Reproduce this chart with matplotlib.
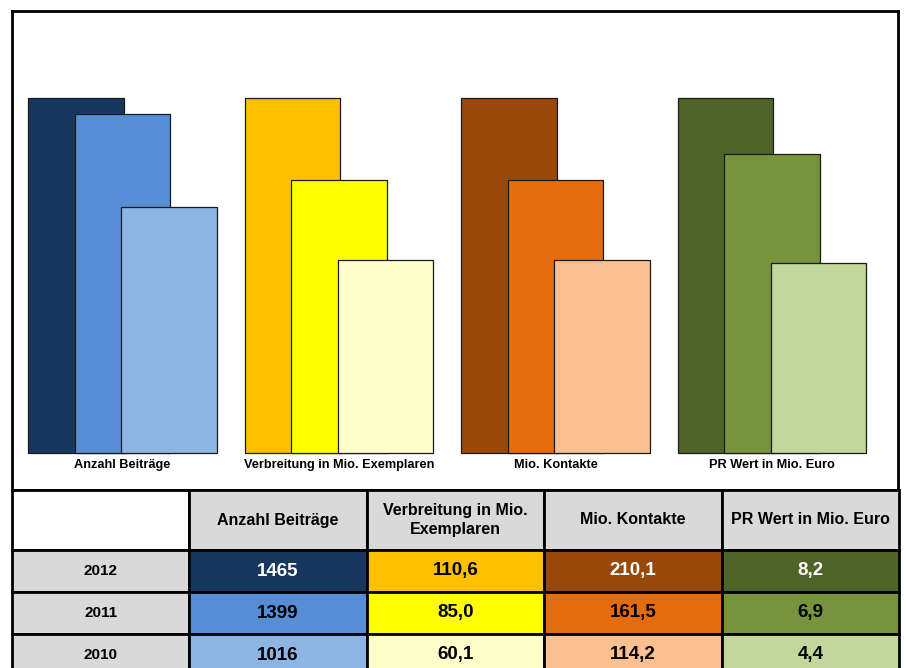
import matplotlib.pyplot as plt
import numpy as np

plt.rcParams['font.family'] = ['Liberation Sans', 'DejaVu Sans']

# Data
years = ['2012', '2011', '2010']
categories = ['Anzahl Beiträge', 'Verbreitung in Mio. Exemplaren', 'Mio. Kontakte', 'PR Wert in Mio. Euro']
header_labels = ['Anzahl Beiträge', 'Verbreitung in Mio.\nExemplaren', 'Mio. Kontakte', 'PR Wert in Mio. Euro']
anzahl = [1465, 1399, 1016]
verbreitung = [110.6, 85.0, 60.1]
kontakte = [210.1, 161.5, 114.2]
pr_wert = [8.2, 6.9, 4.4]

# one colour per year (2012, 2011, 2010) for each category
colors = [
    ['#17375E', '#558ED5', '#8EB4E3'],
    ['#FFC000', '#FFFF00', '#FFFFCC'],
    ['#984807', '#E46C0A', '#FAC090'],
    ['#4F6228', '#77933C', '#C3D69B'],
]
# text colour inside the table cells
text_colors = [
    ['white', 'black', 'black'],
    ['black', 'black', 'black'],
    ['white', 'black', 'black'],
    ['white', 'black', 'black'],
]

series = [anzahl, verbreitung, kontakte, pr_wert]

W, H = 906, 668
fig = plt.figure(figsize=(W / 100, H / 100), dpi=100)

# --- bar chart (also draws the outer frame) ---
ax = fig.add_axes([12 / W, (H - 490) / H, (898 - 12) / W, (490 - 11) / H])
offsets = [-0.215, 0.0, 0.215]
bar_width = 0.44
for g, vals in enumerate(series):
    vals = np.array(vals, dtype=float)
    norm = vals / vals.max()
    for j in range(len(years)):
        ax.bar(g + offsets[j], norm[j], bar_width, color=colors[g][j],
               edgecolor='#1a1a1a', linewidth=0.9, zorder=j + 1)
    ax.text(g, -0.034, categories[g], ha='center', va='center',
            fontsize=9.2, fontweight='bold')

ax.set_xlim(-0.5104, 3.582)
ax.set_ylim(-0.1042, 1.2451)
ax.set_xticks([])
ax.set_yticks([])
for s in ax.spines.values():
    s.set_linewidth(2)

# --- data table ---
tax = fig.add_axes([12 / W, (H - 676) / H, (899 - 12) / W, (676 - 490) / H])
tax.axis('off')

cell_text = [[''] + header_labels]
cell_colours = [['white'] + ['#D9D9D9'] * 4]
for j, year in enumerate(years):
    row = [year]
    for g, vals in enumerate(series):
        v = vals[j]
        if g == 0:
            row.append(f'{int(v)}')
        else:
            row.append(f'{v:.1f}'.replace('.', ','))
    cell_text.append(row)
    cell_colours.append(['#D9D9D9'] + [colors[g][j] for g in range(4)])

tbl = tax.table(cellText=cell_text, cellColours=cell_colours,
                cellLoc='center', bbox=[0, 0, 1, 1])
tbl.auto_set_font_size(False)
for (r, c), cell in tbl.get_celld().items():
    cell.set_height(60 if r == 0 else 42)
    cell.set_linewidth(2)
    cell.set_edgecolor('black')
    t = cell.get_text()
    t.set_fontweight('bold')
    if r == 0:
        t.set_fontsize(11.5)
        t.set_linespacing(1.35)
    elif c == 0:
        t.set_fontsize(11)
    else:
        t.set_fontsize(13.5)
        t.set_color(text_colors[c - 1][r - 1])

fig.savefig('out.png', dpi=100)
